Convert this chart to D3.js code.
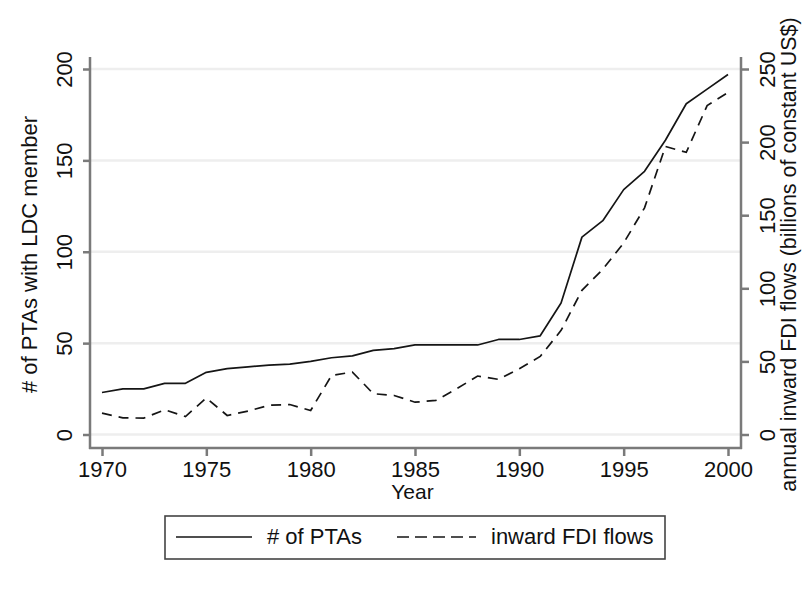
<!DOCTYPE html>
<html>
<head>
<meta charset="utf-8">
<script src="https://cdn.jsdelivr.net/npm/d3@7"></script>
<style>
  html, body { margin: 0; padding: 0; background: #ffffff; }
  svg { display: block; }
  text { font-family: "Liberation Sans", Arial, sans-serif; fill: #111; }
</style>
</head>
<body>
<svg id="chart" width="802" height="590"></svg>
<script>
// ---- data ----
const years = [1970,1971,1972,1973,1974,1975,1976,1977,1978,1979,1980,1981,1982,1983,1984,1985,1986,1987,1988,1989,1990,1991,1992,1993,1994,1995,1996,1997,1998,1999,2000];
const ptas  = [23,25,25,28,28,34,36,37,38,38.5,40,42,43,46,47,49,49,49,49,52,52,54,72,108,117,134,144,161,181,189,197];
const fdi   = [14.6,11.4,11.2,16.9,12.3,25,13,16,20,20.5,16.4,40.4,42.7,27.9,26.7,22.1,23.3,31.3,40,37.7,45,53.4,71.2,98.6,113,131,155,197,193,225,234];
const xTicks = [1970,1975,1980,1985,1990,1995,2000];
const leftTicks = [0,50,100,150,200];
const rightTicks = [0,50,100,150,200,250];
const seriesNames = ["# of PTAs", "inward FDI flows"];
const leftTitle = "# of PTAs with LDC member";
const rightTitle = "annual inward FDI flows (billions of constant US$)";
const xTitle = "Year";

// ---- layout ----
const svg = d3.select("#chart");
svg.append("rect").attr("width", 802).attr("height", 590).attr("fill", "#ffffff");

const plotL = 90, plotR = 741, plotT = 57, plotB = 448;
const x = d3.scaleLinear().domain([1970, 2000]).range([102, 728]);
const yL = d3.scaleLinear().domain([0, 200]).range([434.5, 69]);
const yR = d3.scaleLinear().domain([0, 250]).range([434.5, 69]);

const axisColor = "#7a7a7a";
const fs = 22;

// gridlines
svg.append("g").selectAll("line").data(leftTicks).join("line")
  .attr("x1", plotL + 1).attr("x2", plotR - 1)
  .attr("y1", d => yL(d)).attr("y2", d => yL(d))
  .attr("stroke", "#eeeeee").attr("stroke-width", 2.5);

// left axis
const gL = svg.append("g").attr("transform", `translate(${plotL},0)`)
  .call(d3.axisLeft(yL).tickValues(leftTicks).tickSize(7).tickSizeOuter(0));
gL.select(".domain").remove();
gL.selectAll(".tick line").attr("stroke", axisColor).attr("stroke-width", 2.5);
gL.selectAll(".tick text")
  .attr("transform", "rotate(-90)")
  .attr("x", 0).attr("y", -18).attr("dy", 0)
  .attr("text-anchor", "middle")
  .style("font-size", fs + "px").style("font-family", "Liberation Sans, Arial, sans-serif").attr("fill", "#111");

// right axis
const gR = svg.append("g").attr("transform", `translate(${plotR},0)`)
  .call(d3.axisRight(yR).tickValues(rightTicks).tickSize(8).tickSizeOuter(0));
gR.select(".domain").remove();
gR.selectAll(".tick line").attr("stroke", axisColor).attr("stroke-width", 2.5);
gR.selectAll(".tick text")
  .attr("transform", "rotate(-90)")
  .attr("x", 0).attr("y", 34).attr("dy", 0)
  .attr("text-anchor", "middle")
  .style("font-size", fs + "px").style("font-family", "Liberation Sans, Arial, sans-serif").attr("fill", "#111");

// bottom axis
const gB = svg.append("g").attr("transform", `translate(0,${plotB})`)
  .call(d3.axisBottom(x).tickValues(xTicks).tickFormat(d3.format("d")).tickSize(8).tickSizeOuter(0));
gB.select(".domain").remove();
gB.selectAll(".tick line").attr("stroke", axisColor).attr("stroke-width", 2.5);
gB.selectAll(".tick text")
  .attr("y", 29).attr("dy", 0)
  .style("font-size", fs + "px").style("font-family", "Liberation Sans, Arial, sans-serif").attr("fill", "#111");

// axis lines
svg.append("line").attr("x1", plotL).attr("x2", plotL).attr("y1", plotT).attr("y2", plotB + 1)
  .attr("stroke", axisColor).attr("stroke-width", 2.5);
svg.append("line").attr("x1", plotR).attr("x2", plotR).attr("y1", plotT).attr("y2", plotB + 1)
  .attr("stroke", axisColor).attr("stroke-width", 2.5);
svg.append("line").attr("x1", plotL - 1).attr("x2", plotR + 1).attr("y1", plotB).attr("y2", plotB)
  .attr("stroke", axisColor).attr("stroke-width", 2.5);

// series lines
const lineL = d3.line().x((d, i) => x(years[i])).y(d => yL(d));
const lineR = d3.line().x((d, i) => x(years[i])).y(d => yR(d));
svg.append("path").datum(ptas).attr("d", lineL)
  .attr("fill", "none").attr("stroke", "#151515").attr("stroke-width", 1.7).attr("stroke-linejoin", "round");
svg.append("path").datum(fdi).attr("d", lineR)
  .attr("fill", "none").attr("stroke", "#151515").attr("stroke-width", 1.7)
  .attr("stroke-dasharray", "10,7");

// titles
svg.append("text").attr("transform", `translate(37,${(plotT + plotB) / 2 + 2}) rotate(-90)`)
  .attr("text-anchor", "middle").style("font-size", fs + "px").text(leftTitle);
svg.append("text").attr("transform", `translate(796,${(plotT + plotB) / 2 + 2}) rotate(-90)`)
  .attr("text-anchor", "middle").style("font-size", "21.5px").text(rightTitle);
svg.append("text").attr("x", (plotL + plotR) / 2 - 3).attr("y", 499)
  .attr("text-anchor", "middle").style("font-size", "21px").text(xTitle);

// legend
const lg = svg.append("g");
lg.append("rect").attr("x", 165).attr("y", 516).attr("width", 500).attr("height", 43)
  .attr("fill", "#ffffff").attr("stroke", "#444").attr("stroke-width", 1.6);
lg.append("line").attr("x1", 176).attr("x2", 252).attr("y1", 537).attr("y2", 537)
  .attr("stroke", "#151515").attr("stroke-width", 1.7);
lg.append("text").attr("x", 267).attr("y", 544).style("font-size", fs + "px").text(seriesNames[0]);
lg.append("line").attr("x1", 397).attr("x2", 476).attr("y1", 537).attr("y2", 537)
  .attr("stroke", "#151515").attr("stroke-width", 1.7).attr("stroke-dasharray", "12,6");
lg.append("text").attr("x", 491).attr("y", 544).style("font-size", fs + "px").text(seriesNames[1]);
</script>
</body>
</html>
